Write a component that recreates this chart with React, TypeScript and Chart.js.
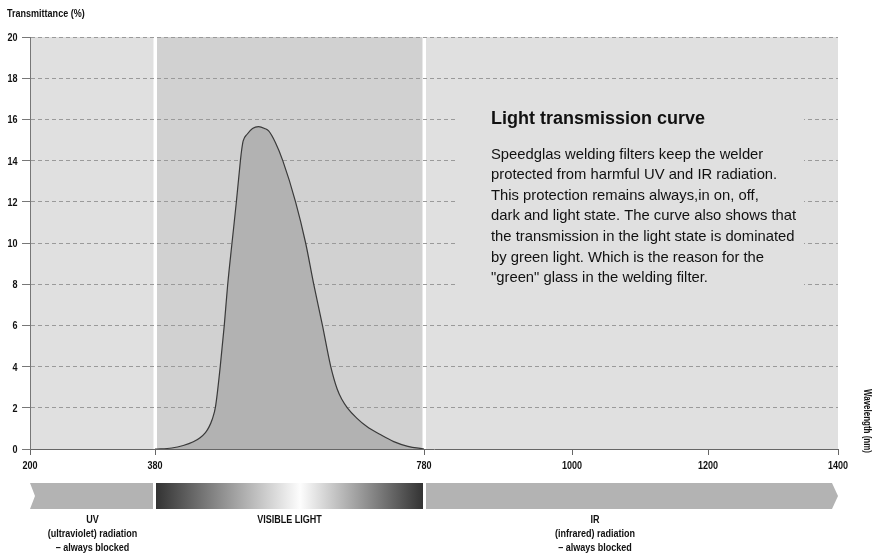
import React, { useEffect, useRef } from "react";
import { Chart, registerables } from "chart.js";

Chart.register(...registerables);

// ---- data ----
const wavelengthTicks = [200, 380, 780, 1000, 1200, 1400];
const transmittanceTicks = [0, 2, 4, 6, 8, 10, 12, 14, 16, 18, 20];

const curveWavelength = [
  380, 405, 422, 437, 447, 455, 460, 465, 470, 477, 483, 488, 494.5, 501, 507,
  509, 511, 517, 525, 534, 543, 549, 559, 570, 589, 604, 616, 629, 641, 651,
  658, 666, 680, 695, 715, 735, 756, 780,
];
const curveTransmittance = [
  0, 0.05, 0.17, 0.35, 0.55, 0.8, 1.05, 1.43, 2.06, 4.0, 6.0, 7.95, 10, 12, 14,
  14.55, 14.95, 15.28, 15.56, 15.65, 15.56, 15.44, 14.88, 14, 12, 10, 8, 6,
  4.05, 2.9, 2.4, 2.0, 1.5, 1.09, 0.7, 0.36, 0.13, 0,
];

const bandLabels = [
  ["UV", "(ultraviolet) radiation", "\u2013 always blocked"],
  ["VISIBLE LIGHT"],
  ["IR", "(infrared) radiation", "\u2013 always blocked"],
];

const yTitle = "Transmittance (%)";
const xTitle = "Wavelength (nm)";
const boxTitle = "Light transmission curve";
const boxLines = [
  "Speedglas welding filters keep the welder",
  "protected from harmful UV and IR radiation.",
  "This protection remains always,in on, off,",
  "dark and light state. The curve also shows that",
  "the transmission in the light state is dominated",
  "by green light. Which is the reason for the",
  "\"green\" glass in the welding filter.",
];

// The wavelength axis is not linear: each tick sits at a fixed axis unit.
const axisStops = [0, 125, 394, 542, 678, 808];

function toAxis(nm: number): number {
  for (let i = 0; i < wavelengthTicks.length - 1; i++) {
    const a = wavelengthTicks[i];
    const b = wavelengthTicks[i + 1];
    if (nm <= b || i === wavelengthTicks.length - 2) {
      const t = (nm - a) / (b - a);
      return axisStops[i] + t * (axisStops[i + 1] - axisStops[i]);
    }
  }
  return 0;
}

const SANS = 'Arial, "Liberation Sans", Helvetica, sans-serif';
const SQUASH = 0.82;

// draw condensed bold text (mimics Helvetica Condensed Bold)
function condText(
  ctx: CanvasRenderingContext2D,
  text: string,
  x: number,
  y: number,
  align: CanvasTextAlign,
  baseline: CanvasTextBaseline,
  size = 11,
  squash = SQUASH
) {
  ctx.save();
  ctx.font = `bold ${size}px ${SANS}`;
  ctx.textAlign = align;
  ctx.textBaseline = baseline;
  ctx.translate(x, y);
  ctx.scale(squash, 1);
  ctx.fillText(text, 0, 0);
  ctx.restore();
}

export default function App() {
  const ref = useRef<HTMLCanvasElement>(null);

  useEffect(() => {
    const canvas = ref.current;
    if (!canvas) return;

    const points = curveWavelength.map((w, i) => ({
      x: toAxis(w),
      y: curveTransmittance[i],
    }));

    const bgPlugin = {
      id: "bg",
      beforeDraw(chart: any) {
        const { ctx, chartArea } = chart;
        const xs = chart.scales.x;
        const { left, right, top, bottom } = chartArea;
        ctx.save();
        ctx.fillStyle = "#e0e0e0";
        ctx.fillRect(left, top, right - left, bottom - top);
        const v0 = xs.getPixelForValue(toAxis(380));
        const v1 = xs.getPixelForValue(toAxis(780));
        ctx.fillStyle = "#d1d1d1";
        ctx.fillRect(v0, top, v1 - v0, bottom - top);
        ctx.fillStyle = "#ffffff";
        ctx.fillRect(v0 - 1.5, top, 3.5, bottom - top);
        ctx.fillRect(v1 - 1.5, top, 3.5, bottom - top);
        ctx.restore();
      },
      beforeDatasetsDraw(chart: any) {
        const { ctx } = chart;
        ctx.save();
        ctx.fillStyle = "#e0e0e0";
        ctx.fillRect(456, 100, 348, 206);
        ctx.restore();
      },
      afterDraw(chart: any) {
        const { ctx, chartArea } = chart;
        const xs = chart.scales.x;
        const ys = chart.scales.y;
        ctx.save();
        ctx.fillStyle = "#111";

        // tick labels
        xs.ticks.forEach((t: any) => {
          const idx = axisStops.indexOf(t.value);
          if (idx < 0) return;
          condText(
            ctx,
            String(wavelengthTicks[idx]),
            xs.getPixelForValue(t.value),
            chartArea.bottom + 20,
            "center",
            "alphabetic"
          );
        });
        ys.ticks.forEach((t: any) => {
          condText(
            ctx,
            String(t.value),
            17.5,
            ys.getPixelForValue(t.value) + 4,
            "right",
            "alphabetic"
          );
        });

        // text box
        ctx.textAlign = "left";
        ctx.textBaseline = "alphabetic";
        ctx.font = `bold 18px ${SANS}`;
        ctx.fillText(boxTitle, 491, 123.5);
        ctx.font = `14.8px ${SANS}`;
        boxLines.forEach((line, i) => {
          ctx.fillText(line, 491, 158.5 + i * 20.6);
        });

        // axis titles
        condText(ctx, yTitle, 7, 17, "left", "alphabetic");
        ctx.save();
        ctx.translate(864, 421);
        ctx.rotate(Math.PI / 2);
        condText(ctx, xTitle, 0, 0, "center", "alphabetic", 10.5, 0.76);
        ctx.restore();

        // spectrum bands
        const bTop = chartArea.bottom + 34;
        const bBot = chartArea.bottom + 60;
        const bMid = (bTop + bBot) / 2;
        const p200 = xs.getPixelForValue(toAxis(200));
        const p380 = xs.getPixelForValue(toAxis(380));
        const p780 = xs.getPixelForValue(toAxis(780));
        const p1400 = xs.getPixelForValue(toAxis(1400));

        ctx.fillStyle = "#b3b3b3";
        ctx.beginPath();
        ctx.moveTo(p200, bTop);
        ctx.lineTo(p380 - 2, bTop);
        ctx.lineTo(p380 - 2, bBot);
        ctx.lineTo(p200, bBot);
        ctx.lineTo(p200 + 5, bMid);
        ctx.closePath();
        ctx.fill();

        const g = ctx.createLinearGradient(p380 + 1, 0, p780 - 1, 0);
        g.addColorStop(0, "#333333");
        g.addColorStop(0.54, "#fdfdfd");
        g.addColorStop(1, "#333333");
        ctx.fillStyle = g;
        ctx.fillRect(p380 + 1, bTop, p780 - 1 - (p380 + 1), bBot - bTop);

        ctx.fillStyle = "#b3b3b3";
        ctx.beginPath();
        ctx.moveTo(p780 + 2, bTop);
        ctx.lineTo(p1400 - 6, bTop);
        ctx.lineTo(p1400, bMid);
        ctx.lineTo(p1400 - 6, bBot);
        ctx.lineTo(p780 + 2, bBot);
        ctx.closePath();
        ctx.fill();

        // band labels
        ctx.fillStyle = "#111";
        const centers = [(p200 + p380) / 2, (p380 + p780) / 2, 595];
        bandLabels.forEach((lines, k) => {
          lines.forEach((line, i) => {
            condText(ctx, line, centers[k], bBot + 14 + i * 14.2, "center", "alphabetic");
          });
        });

        ctx.restore();
      },
    };

    const chart = new Chart(canvas, {
      type: "line",
      data: {
        datasets: [
          {
            data: points,
            borderColor: "#3a3a3a",
            borderWidth: 1.2,
            backgroundColor: "#b2b2b2",
            fill: "origin",
            pointRadius: 0,
            cubicInterpolationMode: "monotone",
          },
        ],
      },
      options: {
        responsive: false,
        animation: false,
        devicePixelRatio: 1,
        layout: { padding: { top: 37, right: 42, left: 0, bottom: 0 } },
        plugins: {
          legend: { display: false },
          tooltip: { enabled: false },
          title: { display: false },
        },
        scales: {
          x: {
            type: "linear",
            min: axisStops[0],
            max: axisStops[axisStops.length - 1],
            afterFit: (s: any) => {
              s.height = 106;
            },
            afterBuildTicks: (s: any) => {
              s.ticks = axisStops.map((v) => ({ value: v }));
            },
            ticks: { display: false, autoSkip: false },
            grid: {
              drawOnChartArea: false,
              drawTicks: true,
              tickLength: 6,
              color: "#666",
              tickColor: "#666",
              lineWidth: 1,
            },
            border: { display: true, color: "#666", width: 1 },
          },
          y: {
            type: "linear",
            min: transmittanceTicks[0],
            max: transmittanceTicks[transmittanceTicks.length - 1],
            afterFit: (s: any) => {
              s.width = 30;
            },
            afterBuildTicks: (s: any) => {
              s.ticks = transmittanceTicks.map((v) => ({ value: v }));
            },
            ticks: { display: false },
            grid: {
              color: "#9a9a9a",
              lineWidth: 1,
              drawTicks: true,
              tickLength: 8,
              tickColor: "#777",
              tickBorderDash: [],
            },
            border: { display: true, color: "#777", width: 1, dash: [4, 3] },
          },
        },
      },
      plugins: [bgPlugin],
    } as any);

    return () => chart.destroy();
  }, []);

  return (
    <div
      style={{
        position: "fixed",
        left: 0,
        top: 0,
        width: 880,
        height: 555,
        background: "#ffffff",
      }}
    >
      <canvas ref={ref} width={880} height={555} style={{ display: "block" }} />
    </div>
  );
}
